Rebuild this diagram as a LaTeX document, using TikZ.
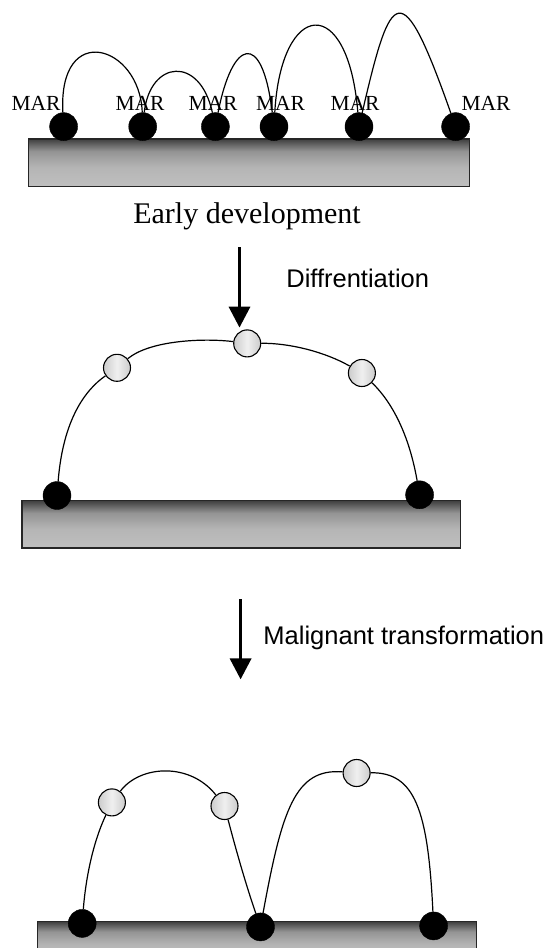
\documentclass[tikz,border=0pt]{standalone}
\usepackage{fontspec}
\setmainfont{Liberation Serif}
\setsansfont{Liberation Sans}
\usetikzlibrary{arrows.meta}
\pgfdeclareverticalshading{surface}{100bp}{color(0bp)=(black!25); color(25bp)=(black!25);
	color(45bp)=(black!29); color(62bp)=(black!42); color(75bp)=(black!75); color(100bp)=(black!75)}
\begin{document}
\begin{tikzpicture}[x=1pt, y=-1pt, >={Triangle[width=21pt,length=21pt]},
	bound/.style={circle, fill=black, draw=black, inner sep=0pt, minimum size=28pt},
	free/.style={circle, draw=black, line width=1.1pt, inner sep=0pt, minimum size=27pt,
		left color=black!20, right color=black!20, middle color=black!6},
	base/.style={draw=black!85, line width=1.2pt, shading=surface},
	loop/.style={line width=1.2pt},
	down arrow/.style={->, line width=3.5pt},
	mar/.style={inner sep=0pt, font=\fontsize{21.5}{24}\selectfont},
	stage/.style={inner sep=0pt, font=\sffamily\fontsize{25.5}{30}\selectfont}]
\useasboundingbox (0,0) rectangle (548,948);

% surfaces
\draw [base] (28.7,139) rectangle (469.6,186.4);
\draw [base] (22,500.7) rectangle (460.8,547.9);
\draw [base] (37.8,921.7) rectangle (476.2,960);

% early development: attachment regions
\foreach \x [count=\i] in {36,140,213,280.6,355,486}
	\node [mar] (mar-\i) at (\x,103) {MAR};
\foreach \x [count=\i] in {63.6,142.7,215.4,274,359,455.6}
	\node [bound] (top-\i) at (\x,126.6) {};

% early development: loops
\draw [loop] (top-1) .. controls (58,20) and (140,45) .. (top-2);
\draw [loop] (top-2) .. controls (150,60) and (200,55) .. (top-3);
\draw [loop] (top-3) .. controls (232,40) and (262,28) .. (top-4);
\draw [loop] (top-4) .. controls (281,0) and (348,-8) .. (top-5);
\draw [loop] (top-5) .. controls (391,-12) and (401,-28) .. (top-6);

\node [inner sep=0pt, font=\fontsize{30}{34}\selectfont] (early) at (247,216) {Early development};

% differentiation
\coordinate (arr1-s) at (239.5,247);
\coordinate (arr1-e) at (239.5,327.6);
\draw [down arrow] (arr1-s) -- (arr1-e);
\node [stage] (diff) at (357.7,278.7) {Diffrentiation};

\node [bound] (mid-l) at (57,495.5) {};
\node [bound] (mid-r) at (419.6,494.8) {};
\foreach \x/\y [count=\i] in {117/367.8, 247.2/343.4, 361.9/373}
	\node [free] (mid-g\i) at (\x,\y) {};

\draw [loop] (mid-l) .. controls (63,420) and (85,390) .. (mid-g1);
\draw [loop] (mid-g1) .. controls (150,340) and (205,338) .. (mid-g2);
\draw [loop] (mid-g2) .. controls (290,343) and (325,352) .. (mid-g3);
\draw [loop] (mid-g3) .. controls (395,405) and (410,440) .. (mid-r);

% malignant transformation
\coordinate (arr2-s) at (240.6,599);
\coordinate (arr2-e) at (240.6,679.4);
\draw [down arrow] (arr2-s) -- (arr2-e);
\node [stage] (malig) at (403.8,637.4) {Malignant transformation};

\foreach \x/\y [count=\i] in {82.2/923.4, 260.5/926.9, 433.6/925.9}
	\node [bound] (low-\i) at (\x,\y) {};
\foreach \x/\y [count=\i] in {111.9/802.4, 224.5/806, 356.6/773}
	\node [free] (low-g\i) at (\x,\y) {};

\draw [loop] (low-1) .. controls (86,875) and (94,840) .. (low-g1);
\draw [loop] (low-g1) .. controls (140,765) and (190,762) .. (low-g2);
\draw [loop] (low-g2) .. controls (236,850) and (246,885) .. (low-2);
\draw [loop] (low-2) .. controls (282,810) and (295,768) .. (low-g3);
\draw [loop] (low-g3) .. controls (415,772) and (428,810) .. (low-3);

\end{tikzpicture}
\end{document}
